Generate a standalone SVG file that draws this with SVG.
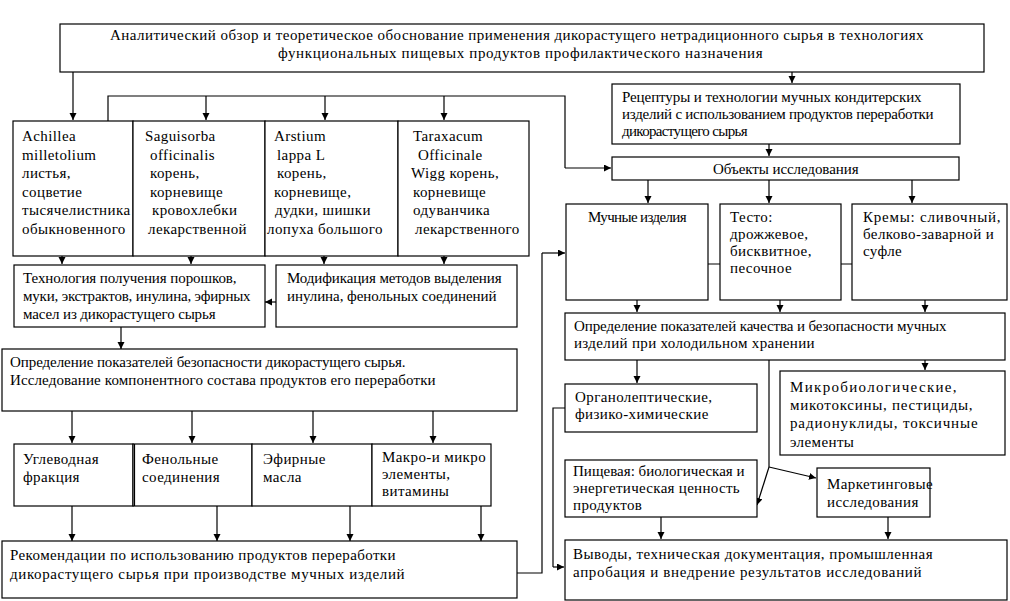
<svg xmlns="http://www.w3.org/2000/svg" width="1010" height="601" viewBox="0 0 1010 601">
<style>
.b{fill:#fff;stroke:#000;stroke-width:1.2}
text{font-family:"Liberation Serif","Times New Roman",serif;font-size:15px;fill:#000;letter-spacing:0.4px}
.c{fill:none;stroke:#000;stroke-width:1.2}
.a{fill:none;stroke:#000;stroke-width:1.2;marker-end:url(#ah)}
</style>
<defs>
<marker id="ah" markerWidth="8" markerHeight="8" refX="7" refY="3.5" orient="auto" markerUnits="userSpaceOnUse">
<path d="M0,0 L7,3.5 L0,7 z" fill="#000"/>
</marker>
</defs>
<rect width="1010" height="601" fill="#fff"/>

<g id="connectors">
<path class="a" d="M73,72 V120"/>
<path class="c" d="M108,121 V96 H565 V168"/>
<path class="a" d="M565,168 H611"/>
<path class="a" d="M206,96 V120"/>
<path class="a" d="M325,96 V120"/>
<path class="a" d="M444,96 V120"/>
<path class="a" d="M792,72 V83"/>
<path class="a" d="M769,144 V156"/>
<path class="a" d="M648,180 V203"/>
<path class="a" d="M769,180 V203"/>
<path class="a" d="M912,180 V203"/>
<path class="c" d="M708,264 H720 M841,264 H852"/>
<path class="a" d="M637,300 V312"/>
<path class="a" d="M780,300 V312"/>
<path class="a" d="M925,300 V312"/>
<path class="a" d="M637,360 V383"/>
<path class="a" d="M925,360 V370"/>
<path class="c" d="M769,360 V467"/>
<path class="a" d="M769,467 L757,505"/>
<path class="a" d="M769,467 L816,478"/>
<path class="c" d="M565,408 H553 V567"/>
<path class="a" d="M553,567 H564"/>
<path class="c" d="M517,573 H542 V253"/>
<path class="a" d="M542,253 H565"/>
<path class="a" d="M661,517 V539"/>
<path class="a" d="M888,517 V539"/>
<path class="a" d="M62,256 V264"/>
<path class="a" d="M191,256 V264"/>
<path class="a" d="M324,256 V264"/>
<path class="a" d="M444,256 V264"/>
<path class="a" d="M276,302 H265"/>
<path class="a" d="M121,327 V349"/>
<path class="a" d="M72,411 V443"/>
<path class="a" d="M192,411 V443"/>
<path class="a" d="M313,411 V443"/>
<path class="a" d="M433,411 V443"/>
<path class="a" d="M72,506 V541"/>
<path class="a" d="M217,506 V541"/>
<path class="a" d="M350,506 V541"/>
<path class="a" d="M481,506 V541"/>
</g>

<g id="n-top">
<rect class="b" x="60" y="24" width="924" height="48"/>
<text x="110" y="40" textLength="814" lengthAdjust="spacing">Аналитический обзор и теоретическое обоснование применения дикорастущего нетрадиционного сырья в технологиях</text>
<text x="278" y="58" textLength="485" lengthAdjust="spacing">функциональных пищевых продуктов профилактического  назначения</text>
</g>

<g id="n-achillea">
<rect class="b" x="13" y="121" width="120" height="135"/>
<text x="22" y="141">Achillea</text>
<text x="22" y="160">milletolium</text>
<text x="22" y="178">листья,</text>
<text x="22" y="197">соцветие</text>
<text x="22" y="215">тысячелистника</text>
<text x="22" y="234">обыкновенного</text>
</g>
<g id="n-saguisorba">
<rect class="b" x="133" y="121" width="132" height="135"/>
<text x="145" y="141">Saguisorba</text>
<text x="150" y="160">officinalis</text>
<text x="150" y="178">корень,</text>
<text x="150" y="197">корневище</text>
<text x="152" y="215">кровохлебки</text>
<text x="148" y="234">лекарственной</text>
</g>
<g id="n-arstium">
<rect class="b" x="265" y="121" width="133" height="135"/>
<text x="274" y="141">Arstium</text>
<text x="277" y="160">lappa L</text>
<text x="277" y="178">корень,</text>
<text x="274" y="197">корневище,</text>
<text x="275" y="215">дудки, шишки</text>
<text x="267" y="234">лопуха большого</text>
</g>
<g id="n-taraxacum">
<rect class="b" x="398" y="121" width="131" height="135"/>
<text x="413" y="141">Taraxacum</text>
<text x="418" y="160">Officinale</text>
<text x="411" y="178">Wigg корень,</text>
<text x="413" y="197">корневище</text>
<text x="413" y="215">одуванчика</text>
<text x="415" y="234">лекарственного</text>
</g>

<g id="n-tech">
<rect class="b" x="14" y="265" width="251" height="62"/>
<text x="23" y="283" textLength="214" lengthAdjust="spacing">Технология получения порошков,</text>
<text x="23" y="301" textLength="228" lengthAdjust="spacing">муки, экстрактов, инулина, эфирных</text>
<text x="23" y="319" textLength="193" lengthAdjust="spacing">масел из дикорастущего сырья</text>
</g>
<g id="n-mod">
<rect class="b" x="276" y="265" width="241" height="62"/>
<text x="287" y="283" textLength="215" lengthAdjust="spacing">Модификация методов выделения</text>
<text x="287" y="301" textLength="210" lengthAdjust="spacing">инулина,  фенольных соединений</text>
</g>
<g id="n-safety">
<rect class="b" x="2" y="349" width="515" height="62"/>
<text x="10" y="367" textLength="396" lengthAdjust="spacing">Определение показателей безопасности дикорастущего сырья.</text>
<text x="10" y="385" textLength="426" lengthAdjust="spacing">Исследование компонентного состава продуктов  его переработки</text>
</g>

<g id="n-carb">
<rect class="b" x="14" y="444" width="119" height="62"/>
<text x="23" y="464">Углеводная</text>
<text x="23" y="482">фракция</text>
</g>
<g id="n-phenol">
<rect class="b" x="133" y="444" width="119" height="62"/>
<line x1="134.5" y1="444" x2="134.5" y2="506" stroke="#000" stroke-width="1.2"/>
<text x="142" y="464">Фенольные</text>
<text x="142" y="482">соединения</text>
</g>
<g id="n-ether">
<rect class="b" x="252" y="444" width="120" height="62"/>
<text x="263" y="464">Эфирные</text>
<text x="263" y="482">масла</text>
</g>
<g id="n-macro">
<rect class="b" x="372" y="444" width="119" height="62"/>
<text x="382" y="462">Макро-и микро</text>
<text x="382" y="479">элементы,</text>
<text x="382" y="496">витамины</text>
</g>
<g id="n-recom">
<rect class="b" x="2" y="541" width="515" height="57"/>
<text x="10" y="560" textLength="386" lengthAdjust="spacing">Рекомендации по использованию продуктов переработки</text>
<text x="10" y="579" textLength="395" lengthAdjust="spacing">дикорастущего сырья при производстве мучных изделий</text>
</g>

<g id="n-recipes">
<rect class="b" x="612" y="84" width="348" height="60"/>
<text x="622" y="102" textLength="300" lengthAdjust="spacing">Рецептуры и технологии мучных  кондитерских</text>
<text x="622" y="119" textLength="312" lengthAdjust="spacing">изделий с использованием продуктов переработки</text>
<text x="622" y="136" textLength="126" lengthAdjust="spacing">дикорастущего сырья</text>
</g>
<g id="n-objects">
<rect class="b" x="612" y="157" width="347" height="23"/>
<text x="713" y="174" textLength="146" lengthAdjust="spacing">Объекты исследования</text>
</g>
<g id="n-flour">
<rect class="b" x="566" y="204" width="142" height="96"/>
<text x="588" y="222" textLength="99" lengthAdjust="spacing">Мучные  изделия</text>
</g>
<g id="n-dough">
<rect class="b" x="720" y="204" width="121" height="96"/>
<text x="730" y="222">Тесто:</text>
<text x="730" y="239">дрожжевое,</text>
<text x="730" y="256">бисквитное,</text>
<text x="730" y="273">песочное</text>
</g>
<g id="n-creams">
<rect class="b" x="852" y="204" width="155" height="96"/>
<text x="863" y="222" textLength="138" lengthAdjust="spacing">Кремы:  сливочный,</text>
<text x="863" y="239">белково-заварной и</text>
<text x="863" y="256">суфле</text>
</g>
<g id="n-quality">
<rect class="b" x="565" y="313" width="440" height="47"/>
<text x="574" y="331" textLength="373" lengthAdjust="spacing">Определение показателей качества и  безопасности  мучных</text>
<text x="574" y="348" textLength="241" lengthAdjust="spacing">изделий при  холодильном хранении</text>
</g>
<g id="n-organo">
<rect class="b" x="565" y="384" width="192" height="48"/>
<text x="575" y="402">Органолептические,</text>
<text x="575" y="419">физико-химические</text>
</g>
<g id="n-micro">
<rect class="b" x="780" y="371" width="225" height="84"/>
<text x="790" y="392" textLength="167" lengthAdjust="spacing">Микробиологические,</text>
<text x="790" y="410" textLength="183" lengthAdjust="spacing">микотоксины, пестициды,</text>
<text x="790" y="428" textLength="188" lengthAdjust="spacing">радионуклиды, токсичные</text>
<text x="790" y="447">элементы</text>
</g>
<g id="n-food">
<rect class="b" x="565" y="460" width="192" height="57"/>
<text x="573" y="476" textLength="172" lengthAdjust="spacing">Пищевая: биологическая и</text>
<text x="573" y="493" textLength="167" lengthAdjust="spacing">энергетическая ценность</text>
<text x="573" y="510">продуктов</text>
</g>
<g id="n-marketing">
<rect class="b" x="817" y="468" width="113" height="49"/>
<text x="827" y="489">Маркетинговые</text>
<text x="827" y="507">исследования</text>
</g>
<g id="n-conclusions">
<rect class="b" x="565" y="540" width="442" height="60"/>
<text x="573" y="559" textLength="360" lengthAdjust="spacing">Выводы, техническая документация, промышленная</text>
<text x="573" y="577" textLength="349" lengthAdjust="spacing">апробация и внедрение результатов  исследований</text>
</g>
</svg>
